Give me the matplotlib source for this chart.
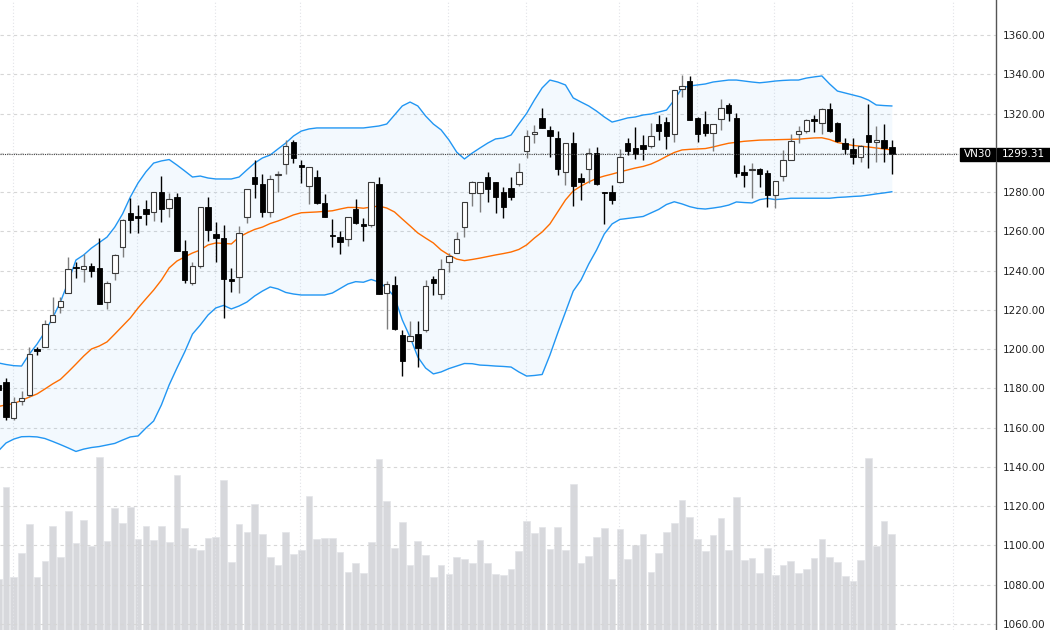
import matplotlib
matplotlib.use("Agg")
import matplotlib.pyplot as plt
from matplotlib.patches import Rectangle
import numpy as np

# daily candles, first one is cut off at the left edge
opens = [1181.8, 1183.4, 1164.8, 1173.8, 1176.7, 1200.1, 1201.3, 1214.0, 1221.3, 1228.8,
         1242.0, 1241.0, 1242.4, 1241.5, 1223.9, 1238.7, 1252.2, 1269.2, 1267.5, 1271.2,
         1269.7, 1280.2, 1271.7, 1277.7, 1250.2, 1233.9, 1242.4, 1272.3, 1258.5, 1256.5,
         1235.6, 1236.6, 1267.5, 1287.9, 1284.0, 1270.0, 1288.6, 1294.3, 1305.7, 1293.8,
         1283.1, 1287.9, 1274.6, 1258.2, 1257.3, 1256.0, 1271.4, 1263.5, 1263.3, 1284.1,
         1228.5, 1232.7, 1207.2, 1204.3, 1207.7, 1209.8, 1235.6, 1228.0, 1244.2, 1248.8,
         1262.4, 1279.4, 1279.4, 1287.6, 1285.0, 1280.2, 1281.9, 1284.0, 1301.0, 1309.6,
         1317.9, 1311.7, 1307.4, 1290.4, 1304.9, 1287.0, 1291.6, 1299.8, 1279.9, 1280.2,
         1285.0, 1305.2, 1302.3, 1304.0, 1303.5, 1314.7, 1315.9, 1309.6, 1332.3, 1336.6,
         1318.0, 1314.7, 1310.3, 1317.1, 1324.4, 1317.6, 1290.3, 1291.1, 1291.6, 1289.6,
         1278.4, 1288.4, 1296.4, 1309.6, 1311.1, 1317.3, 1315.4, 1322.4, 1315.4, 1304.9,
         1301.8, 1298.1, 1309.1, 1305.4, 1306.6, 1302.8]
highs = [1183.0, 1185.3, 1175.8, 1178.8, 1201.3, 1201.3, 1214.9, 1226.7, 1226.7, 1247.1,
         1244.6, 1248.5, 1243.7, 1256.5, 1234.9, 1248.5, 1266.2, 1276.9, 1273.4, 1276.0,
         1280.2, 1288.2, 1279.7, 1279.7, 1255.6, 1244.6, 1272.3, 1277.7, 1264.9, 1263.3,
         1241.5, 1262.8, 1281.4, 1296.4, 1289.2, 1288.7, 1290.8, 1306.6, 1306.6, 1296.4,
         1292.7, 1291.3, 1279.1, 1266.2, 1260.4, 1267.2, 1276.5, 1266.7, 1285.3, 1287.6,
         1234.9, 1237.4, 1209.8, 1214.4, 1214.4, 1235.2, 1237.3, 1245.8, 1248.8, 1259.8,
         1274.8, 1285.7, 1285.3, 1290.1, 1285.3, 1282.5, 1287.6, 1294.7, 1311.7, 1314.2,
         1322.7, 1313.7, 1311.1, 1304.9, 1310.5, 1289.6, 1302.3, 1302.8, 1280.2, 1283.6,
         1301.8, 1307.7, 1313.3, 1309.1, 1315.1, 1319.3, 1318.4, 1332.0, 1339.7, 1339.2,
         1318.4, 1321.3, 1314.7, 1327.3, 1325.6, 1320.5, 1293.8, 1294.7, 1292.1, 1291.3,
         1285.7, 1301.5, 1309.6, 1313.7, 1317.1, 1319.3, 1322.7, 1325.3, 1315.9, 1307.4,
         1307.4, 1304.0, 1324.9, 1313.7, 1314.7, 1306.6]
lows = [1178.0, 1163.9, 1163.9, 1171.6, 1175.8, 1197.0, 1201.3, 1214.0, 1218.3, 1228.5,
        1236.4, 1234.4, 1237.0, 1223.0, 1220.5, 1235.2, 1246.8, 1259.0, 1259.0, 1263.3,
        1265.5, 1264.6, 1267.5, 1250.2, 1233.6, 1232.7, 1241.5, 1255.3, 1244.3, 1216.0,
        1229.3, 1228.8, 1264.4, 1277.2, 1267.2, 1267.2, 1280.2, 1289.2, 1295.0, 1284.5,
        1274.0, 1274.0, 1267.2, 1252.2, 1248.5, 1252.6, 1263.8, 1255.3, 1262.4, 1228.0,
        1210.4, 1209.8, 1186.3, 1204.3, 1191.1, 1208.6, 1227.6, 1225.6, 1239.5, 1248.8,
        1257.3, 1273.0, 1270.0, 1274.8, 1269.2, 1266.7, 1275.9, 1283.1, 1297.2, 1304.9,
        1312.5, 1298.1, 1288.7, 1283.6, 1273.0, 1276.0, 1284.5, 1283.6, 1263.8, 1274.0,
        1284.5, 1298.9, 1296.7, 1296.4, 1302.3, 1306.6, 1301.8, 1305.7, 1328.3, 1316.7,
        1305.7, 1308.6, 1301.1, 1311.7, 1316.4, 1287.9, 1282.8, 1276.9, 1282.8, 1272.6,
        1271.7, 1285.8, 1296.4, 1305.2, 1310.0, 1310.8, 1309.6, 1310.8, 1305.7, 1299.4,
        1294.3, 1295.5, 1292.1, 1295.5, 1295.2, 1289.1]
closes = [1179.2, 1165.6, 1173.2, 1175.0, 1197.5, 1199.1, 1212.8, 1217.4, 1224.5, 1240.7,
          1241.5, 1242.4, 1240.0, 1223.0, 1233.6, 1248.0, 1265.8, 1265.8, 1267.0, 1268.7,
          1280.2, 1271.4, 1276.5, 1250.2, 1235.2, 1242.4, 1272.3, 1260.6, 1256.5, 1235.8,
          1234.7, 1259.0, 1281.4, 1284.1, 1270.0, 1286.5, 1289.1, 1303.5, 1297.2, 1293.0,
          1292.7, 1274.3, 1267.5, 1257.7, 1254.8, 1267.2, 1264.1, 1263.0, 1285.1, 1228.0,
          1233.2, 1210.3, 1194.0, 1206.7, 1200.4, 1232.2, 1233.9, 1240.7, 1247.5, 1256.0,
          1274.8, 1285.0, 1285.0, 1281.6, 1277.7, 1272.6, 1277.7, 1290.1, 1308.6, 1310.6,
          1312.8, 1308.8, 1291.6, 1304.9, 1283.3, 1285.3, 1300.1, 1284.1, 1279.4, 1276.0,
          1298.1, 1301.1, 1299.4, 1302.0, 1308.6, 1311.3, 1308.6, 1332.0, 1334.1, 1316.7,
          1309.6, 1310.3, 1314.7, 1322.7, 1320.2, 1289.6, 1288.9, 1291.6, 1289.1, 1278.5,
          1285.7, 1296.4, 1306.1, 1311.1, 1316.5, 1316.1, 1322.2, 1311.3, 1306.2, 1302.0,
          1298.1, 1303.5, 1305.7, 1306.6, 1302.7, 1299.31]

# relative traded volume
volume = [50.7, 143.3, 52.7, 77, 105.7, 52.7, 69, 104, 72.7, 119,
          87, 110, 83.7, 173, 89, 122.3, 107.3, 123.3, 91.3, 103.7,
          90.3, 104, 88, 155.3, 102, 81.7, 80.3, 92, 93, 150,
          68, 106, 98, 126, 96.3, 73, 65, 98, 76, 80,
          134, 91, 92, 92, 77.7, 58, 67, 57, 88, 171.3,
          129, 82.3, 108, 65, 89.3, 75, 52.7, 64.7, 56, 72.7,
          71, 66.7, 90, 66.7, 55.7, 55, 61, 79, 109, 96.7,
          103.3, 81.3, 103.3, 80, 146, 66.7, 74.3, 93, 102, 51,
          101, 70.7, 84.7, 96, 57.7, 77, 98, 107, 130, 113,
          91, 79.3, 94.7, 112, 80, 133, 70, 72, 57, 82,
          55, 64.7, 69, 57.3, 61, 72, 90.7, 73, 68, 53.7,
          49, 70, 171.7, 83.7, 109.3, 96.3]

# Bollinger bands (20, 2)
bb_upper = [1193.0, 1192.2, 1191.6, 1191.4, 1197.5, 1202.6, 1208.8, 1215.9, 1224.0, 1234.2,
            1245.4, 1248.0, 1251.5, 1254.3, 1257.1, 1262.2, 1268.9, 1277.5, 1284.7, 1290.3,
            1294.8, 1295.9, 1296.6, 1293.8, 1290.8, 1287.7, 1288.2, 1287.2, 1286.7, 1286.7,
            1286.7, 1287.7, 1291.3, 1294.8, 1297.4, 1298.9, 1302.0, 1305.0, 1308.6, 1311.1,
            1312.2, 1312.7, 1312.7, 1312.7, 1312.7, 1312.7, 1312.7, 1312.7, 1313.2, 1313.7,
            1314.7, 1319.3, 1323.9, 1325.9, 1323.9, 1318.8, 1314.7, 1311.7, 1306.6, 1300.4,
            1296.9, 1299.9, 1302.5, 1305.0, 1307.1, 1307.6, 1309.1, 1314.7, 1320.1, 1326.9,
            1333.1, 1337.1, 1336.1, 1334.6, 1328.0, 1325.9, 1323.9, 1321.3, 1318.3, 1315.7,
            1316.7, 1317.8, 1318.3, 1319.3, 1319.8, 1320.8, 1321.8, 1326.9, 1333.1, 1334.1,
            1334.6, 1335.1, 1336.1, 1336.6, 1337.1, 1337.1, 1336.6, 1336.1, 1335.7, 1336.1,
            1336.6, 1336.9, 1337.1, 1337.1, 1338.1, 1338.7, 1339.2, 1335.1, 1331.5, 1330.5,
            1329.5, 1328.5, 1326.9, 1324.4, 1324.1, 1323.9]
bb_mid = [1170.8, 1171.6, 1172.3, 1173.9, 1175.6, 1177.2, 1179.7, 1182.3, 1184.6, 1188.4,
          1192.4, 1196.5, 1200.1, 1201.6, 1203.7, 1207.7, 1211.8, 1215.9, 1221.0, 1225.6,
          1230.1, 1235.2, 1241.4, 1244.9, 1247.0, 1249.0, 1250.5, 1253.1, 1254.1, 1253.9,
          1253.6, 1257.1, 1259.2, 1261.0, 1262.2, 1264.0, 1265.3, 1266.8, 1268.4, 1269.5,
          1269.7, 1269.9, 1270.2, 1270.5, 1271.4, 1272.2, 1272.2, 1271.8, 1272.4, 1272.9,
          1271.9, 1269.9, 1266.3, 1262.8, 1259.2, 1256.6, 1254.1, 1250.5, 1248.0, 1245.9,
          1245.1, 1245.7, 1246.4, 1247.2, 1248.0, 1248.7, 1249.5, 1250.8, 1253.1, 1256.6,
          1259.7, 1263.8, 1269.9, 1276.0, 1280.6, 1283.1, 1285.2, 1287.0, 1288.2, 1289.2,
          1290.3, 1291.3, 1292.3, 1293.1, 1294.3, 1296.1, 1298.2, 1300.2, 1301.5, 1301.8,
          1302.0, 1302.2, 1303.0, 1304.0, 1304.9, 1305.4, 1305.9, 1306.2, 1306.5, 1306.6,
          1306.7, 1306.8, 1306.9, 1307.0, 1307.3, 1307.6, 1307.7, 1306.8, 1305.3, 1304.5,
          1303.8, 1303.4, 1303.0, 1302.5, 1302.0, 1301.5]
bb_lower = [1148.1, 1152.2, 1154.2, 1155.4, 1155.5, 1155.3, 1154.5, 1153.0, 1151.4, 1149.7,
            1147.9, 1149.1, 1149.9, 1150.4, 1151.2, 1152.0, 1153.7, 1155.3, 1155.8, 1159.8,
            1163.4, 1171.6, 1181.8, 1190.4, 1198.6, 1207.7, 1212.3, 1217.4, 1221.0, 1222.3,
            1220.5, 1222.0, 1224.0, 1227.1, 1229.6, 1231.7, 1230.7, 1228.9, 1228.1, 1227.6,
            1227.6, 1227.6, 1227.6, 1228.6, 1230.9, 1233.2, 1234.4, 1234.1, 1235.5, 1234.2,
            1231.2, 1226.6, 1214.9, 1206.2, 1196.0, 1190.4, 1187.4, 1188.4, 1190.1, 1191.4,
            1192.7, 1192.6, 1191.9, 1191.7, 1191.4, 1191.2, 1190.9, 1188.4, 1186.3, 1186.6,
            1187.1, 1197.0, 1208.2, 1218.9, 1229.6, 1235.2, 1243.4, 1250.5, 1258.7, 1263.8,
            1266.1, 1266.6, 1267.1, 1267.6, 1269.4, 1271.2, 1273.7, 1275.1, 1274.0, 1272.6,
            1271.7, 1271.4, 1271.9, 1272.5, 1273.4, 1275.0, 1274.7, 1274.5, 1276.2, 1276.8,
            1276.2, 1276.5, 1276.9, 1276.9, 1276.9, 1276.9, 1276.9, 1276.9, 1277.3, 1277.5,
            1277.8, 1278.0, 1278.5, 1279.1, 1279.6, 1280.2]

month_starts = [1, 17, 27, 38, 57, 67, 79, 89, 99, 109, 122]
price_ticks = np.arange(1060, 1361, 20)
symbol = "VN30"

idx = np.arange(len(opens)) - 1
o = np.array(opens); h = np.array(highs); l = np.array(lows); c = np.array(closes)
up = c >= o

fig = plt.figure(figsize=(10.5, 6.3), dpi=100)
ax = fig.add_axes([0, 0, 996 / 1050, 1])
axv = ax.twinx()
ax.set_zorder(2)
ax.patch.set_visible(False)
axv.set_zorder(1)

# volume
axv.bar(idx, volume, width=0.86, color="#d7d8dc", edgecolor="#e4e5e8", linewidth=0.5)
axv.set_ylim(0, 630)
axv.set_yticks([])
for s in axv.spines.values():
    s.set_visible(False)

# grid
for p in price_ticks:
    ax.axhline(p, color="#d6d6d6", lw=0.8, dashes=(3, 3), zorder=0)
for m in month_starts:
    ax.axvline(m - 0.1, color="#e2e3e8", lw=0.8, dashes=(1, 2), zorder=0)

# bands
ax.fill_between(idx, bb_lower, bb_upper, color="#2196f3", alpha=0.05, lw=0, zorder=1)
ax.plot(idx, bb_upper, color="#2196f3", lw=1.0, zorder=2)
ax.plot(idx, bb_lower, color="#2196f3", lw=1.0, zorder=2)
ax.plot(idx, bb_mid, color="#ff6d00", lw=1.0, zorder=2)

# candles
wick_col = np.where(up, "#7d7d7d", "#000000")
ax.vlines(idx, l, h, colors=wick_col, lw=1.0, zorder=3)
body_lo = np.minimum(o, c)
body_h = np.maximum(np.abs(c - o), 0.6)
ax.bar(idx[~up], body_h[~up], bottom=body_lo[~up], width=0.7,
       color="#000000", edgecolor="#000000", lw=0.6, zorder=4)
ax.bar(idx[up], body_h[up], bottom=body_lo[up], width=0.7,
       color="#ffffff", edgecolor="#3a3a3a", lw=0.8, zorder=4)

# last price line
last = closes[-1]
ax.axhline(last, xmax=958 / 996, color="#444444", lw=0.8, dashes=(1, 1), zorder=5)

ax.set_xlim(-0.772, 127.41)
ax.set_ylim(1056.94, 1377.88)
ax.set_xticks([])
ax.yaxis.tick_right()
ax.set_yticks(price_ticks)
ax.set_yticklabels([f"{p:.2f}" for p in price_ticks])
ax.tick_params(axis="y", length=0, pad=5, labelsize=7.5, labelcolor="#222222")
for name, s in ax.spines.items():
    s.set_visible(name == "right")
ax.spines["right"].set_color("#555555")
ax.spines["right"].set_linewidth(1.0)

# price labels on the axis
yf = (ax.transData.transform((0, last))[1]) / 630
bh = 13 / 630
fig.patches.append(Rectangle((960 / 1050, yf - bh / 2), 35 / 1050, bh,
                             transform=fig.transFigure, color="#000000", zorder=10))
fig.patches.append(Rectangle((997 / 1050, yf - bh / 2), 53 / 1050, bh,
                             transform=fig.transFigure, color="#000000", zorder=10))
fig.text(977.5 / 1050, yf, symbol, color="white", fontsize=7.5,
         ha="center", va="center", zorder=11)
fig.text(1023.5 / 1050, yf, f"{last:.2f}", color="white", fontsize=7.5,
         ha="center", va="center", zorder=11)

fig.savefig("out.png", dpi=100)
